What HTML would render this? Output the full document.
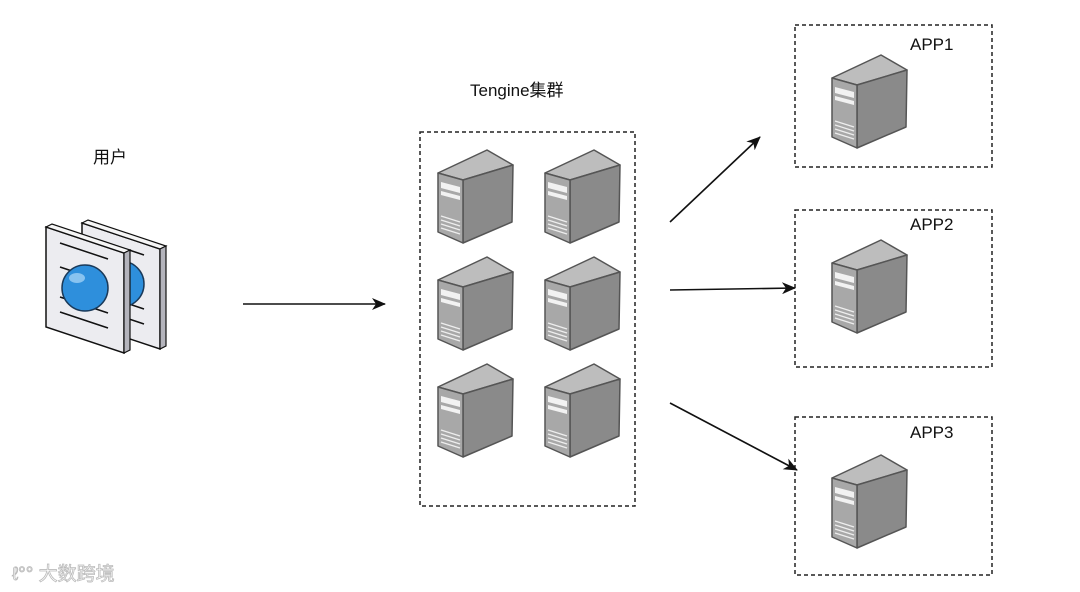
<!DOCTYPE html>
<html><head><meta charset="utf-8"><style>
html,body{margin:0;padding:0;background:#fff;width:1080px;height:592px;overflow:hidden}
svg{display:block}
text{font-family:"Liberation Sans","Noto Sans CJK SC",sans-serif;font-size:17px;fill:#111}
</style></head><body>
<svg width="1080" height="592" viewBox="0 0 1080 592" xmlns="http://www.w3.org/2000/svg">
<defs>
<g id="srv">
  <polygon points="0,23 49,0 75,15 25,30" fill="#bdbdbd" stroke="#555" stroke-width="1.5" stroke-linejoin="round"/>
  <polygon points="25,30 75,15 74,72 25,93" fill="#8a8a8a" stroke="#555" stroke-width="1.5" stroke-linejoin="round"/>
  <polygon points="0,23 25,30 25,93 0,82" fill="#a8a8a8" stroke="#555" stroke-width="1.5" stroke-linejoin="round"/>
  <polygon points="3,32 22,37 22,43 3,38" fill="#f2f2f2"/>
  <polygon points="3,41 22,46 22,50 3,45" fill="#f2f2f2"/>
  <g stroke="#eee" stroke-width="1.2">
    <line x1="3" y1="66" x2="22" y2="72"/><line x1="3" y1="70" x2="22" y2="76"/>
    <line x1="3" y1="74" x2="22" y2="80"/><line x1="3" y1="78" x2="22" y2="84"/>
  </g>
</g>
<g id="doc">
  <polygon points="0,0 78,26 78,126 0,100" fill="#ececf0" stroke="#111" stroke-width="1.5"/>
  <polygon points="0,0 6,-3 84,23 78,26" fill="#f6f6f6" stroke="#111" stroke-width="1.2"/>
  <polygon points="78,26 84,23 84,123 78,126" fill="#b4b4bc" stroke="#111" stroke-width="1.2"/>
  <line x1="14" y1="16" x2="62" y2="32" stroke="#111" stroke-width="1.5"/>
  <line x1="14" y1="85" x2="62" y2="101" stroke="#111" stroke-width="1.5"/>
  <line x1="14" y1="40" x2="62" y2="56" stroke="#111" stroke-width="1.5"/>
  <line x1="14" y1="70" x2="62" y2="86" stroke="#111" stroke-width="1.5"/>
  <circle cx="39" cy="61" r="23" fill="#2e8fdc" stroke="#1a3a5a" stroke-width="1.5"/>
  <ellipse cx="31" cy="51" rx="8" ry="5" fill="#9fd0f5" opacity="0.8"/>
</g>
<marker id="ah" markerWidth="14" markerHeight="12" refX="13" refY="6" orient="auto" markerUnits="userSpaceOnUse">
  <path d="M0,0 L14,6 L0,12 L4,6 z" fill="#111"/>
</marker>
</defs>

<!-- user icon -->
<use href="#doc" x="82" y="223"/>
<use href="#doc" x="46" y="227"/>
<text x="93" y="163">用户</text>

<!-- Tengine -->
<text x="470" y="96">Tengine集群</text>
<rect x="420" y="132" width="215" height="374" fill="none" stroke="#222" stroke-width="1.5" stroke-dasharray="4,3"/>
<use href="#srv" x="438" y="150"/><use href="#srv" x="545" y="150"/>
<use href="#srv" x="438" y="257"/><use href="#srv" x="545" y="257"/>
<use href="#srv" x="438" y="364"/><use href="#srv" x="545" y="364"/>

<!-- APPs -->
<rect x="795" y="25" width="197" height="142" fill="none" stroke="#222" stroke-width="1.5" stroke-dasharray="4,3"/>
<text x="910" y="50">APP1</text>
<use href="#srv" x="832" y="55"/>
<rect x="795" y="210" width="197" height="157" fill="none" stroke="#222" stroke-width="1.5" stroke-dasharray="4,3"/>
<text x="910" y="230">APP2</text>
<use href="#srv" x="832" y="240"/>
<rect x="795" y="417" width="197" height="158" fill="none" stroke="#222" stroke-width="1.5" stroke-dasharray="4,3"/>
<text x="910" y="438">APP3</text>
<use href="#srv" x="832" y="455"/>

<!-- arrows -->
<g stroke="#111" stroke-width="1.6" fill="none">
<line x1="243" y1="304" x2="385" y2="304" marker-end="url(#ah)"/>
<line x1="670" y1="222" x2="760" y2="137" marker-end="url(#ah)"/>
<line x1="670" y1="290" x2="795" y2="288" marker-end="url(#ah)"/>
<line x1="670" y1="403" x2="797" y2="470" marker-end="url(#ah)"/>
</g>

<!-- watermark -->
<text x="12" y="580" style="font-size:19px;fill:#fff;stroke:#bbb;stroke-width:0.8">ℓ°° 大数跨境</text>
</svg>
</body></html>
